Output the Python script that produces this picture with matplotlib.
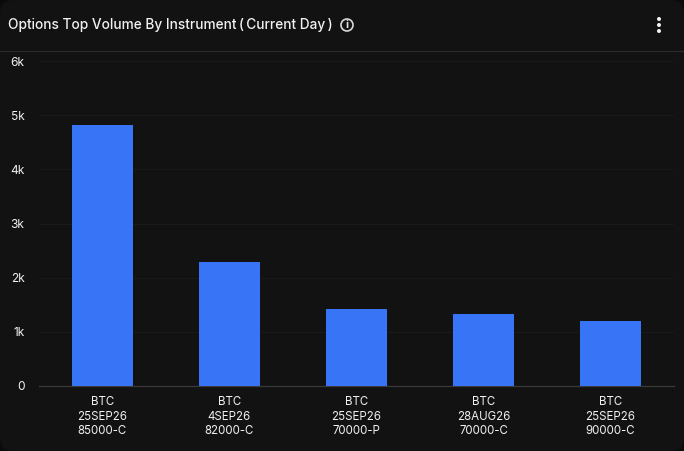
import matplotlib.pyplot as plt
from matplotlib.patches import FancyBboxPatch

W, H = 684, 451

instruments = ["BTC\n25SEP26\n85000-C", "BTC\n4SEP26\n82000-C", "BTC\n25SEP26\n70000-P",
               "BTC\n28AUG26\n70000-C", "BTC\n25SEP26\n90000-C"]
volume = [4820, 2290, 1425, 1330, 1200]
y_ticks = [0, 1000, 2000, 3000, 4000, 5000, 6000]
y_labels = ["0", "1k", "2k", "3k", "4k", "5k", "6k"]

bg = "#121212"
plt.rcParams["font.family"] = ["Inter", "DejaVu Sans"]

fig = plt.figure(figsize=(W / 100, H / 100), dpi=100, facecolor="#0b0b0b")

# card with rounded corners, has to sit under the axes
card = FancyBboxPatch((0, 0), W, H, boxstyle="round,pad=0,rounding_size=14",
                      transform=None, fc=bg, ec="none", zorder=-1)
fig.add_artist(card)

# header line
fig.add_artist(plt.Line2D([0, 1], [1 - 50.5 / H, 1 - 50.5 / H], color="#2a2a30", lw=0.8))

ax = fig.add_axes([39 / W, 1 - 386 / H, (674 - 39) / W, (386 - 61) / H], facecolor="none")
x = range(len(volume))
ax.bar(x, volume, width=0.48, color="#3875f6", zorder=3)
ax.set_xlim(-0.5, 4.5)
ax.set_ylim(0, 6000)
ax.set_yticks(y_ticks, y_labels)
ax.set_xticks(list(x), instruments)
ax.grid(axis="y", color="#191919", lw=0.8, zorder=0)
ax.tick_params(axis="y", length=0, pad=10.5, labelsize=8.6, labelcolor="#f0f0f0")
ax.tick_params(axis="x", length=0, pad=7.5, labelsize=8.3, labelcolor="#f0f0f0")
for lab in ax.get_xticklabels():
    lab.set_linespacing(1.24)
for s in ["top", "left", "right"]:
    ax.spines[s].set_visible(False)
ax.spines["bottom"].set_color("#3a3a3a")
ax.spines["bottom"].set_linewidth(0.9)

fig.text(8 / W, 1 - 25.5 / H, "Options Top Volume By Instrument\u2009(\u2009Current Day\u2009)",
         color="#f2f2f2", fontsize=9.85, va="center", ha="left", fontweight="medium")

# info icon
info = plt.Circle((347, H - 25), 6, transform=None, fc="none", ec="#d8d8d8", lw=1.2)
fig.add_artist(info)
fig.text(347 / W, 1 - 25.5 / H, "i", color="#e0e0e0", fontsize=8, ha="center", va="center",
         fontweight="bold")

# menu dots
for yp in [19, 25, 31]:
    fig.add_artist(plt.Circle((659, H - yp), 2, transform=None, fc="#f2f2f2", ec="none"))

fig.savefig("out.png", dpi=100, facecolor=fig.get_facecolor())
